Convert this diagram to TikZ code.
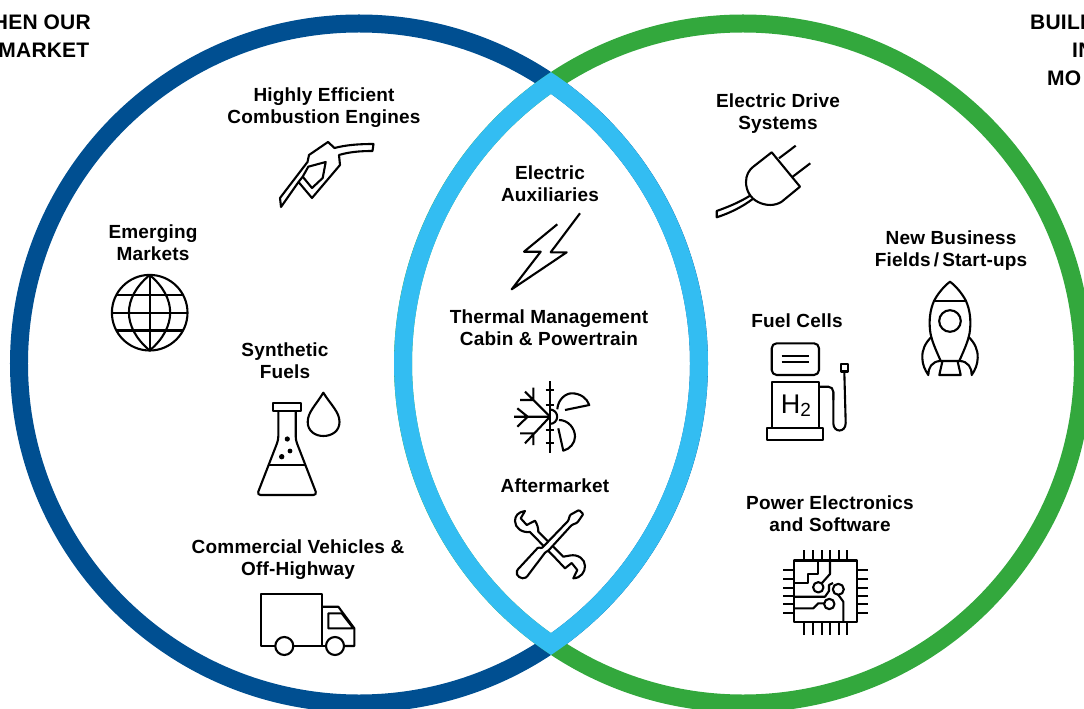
\documentclass[tikz,border=0pt]{standalone}
\usepackage{fontspec}
\newfontfamily\labelfont[LetterSpace=1.0]{Liberation Sans}
\newfontfamily\iconfont{Liberation Sans}
\definecolor{ringblue}{rgb}{0.0,0.31,0.57}
\definecolor{ringgreen}{rgb}{0.2,0.66,0.24}
\definecolor{ringsky}{rgb}{0.2,0.74,0.95}
\tikzset{
  ringline/.style={line width=18bp,draw=#1},
  iconline/.style={line width=2.1bp,draw=black,line join=round},
  itemlabel/.style={font=\labelfont\bfseries\fontsize{19bp}{22bp}\selectfont,align=center,inner sep=0pt},
  headlabel/.style={font=\labelfont\bfseries\fontsize{21bp}{28bp}\selectfont,align=left,inner sep=0pt},
}
\begin{document}
\begin{tikzpicture}[x=1bp,y=-1bp,line join=round]
  \useasboundingbox (0,0) rectangle (1084,709);
  \clip (0,0) rectangle (1084,709);
%%
  % Rings
  \draw [ringline=ringblue] (359,363.5) circle [radius=340bp];
  \draw [ringline=ringgreen] (743,363.5) circle [radius=340bp];
  \fill [ringsky,even odd rule] (551,72.1) arc (56.62:-56.62:349bp) arc (236.62:123.38:349bp) -- cycle
    (551,93.9) arc (54.54:-54.54:331bp) arc (234.54:125.46:331bp) -- cycle;
  % Head lines, cut by the page edge
  \node [headlabel,anchor=east] (headleft1) at (91,22) {HEN OUR};
  \node [headlabel,anchor=east] (headleft2) at (89.5,50) {MARKET};
  \node [headlabel,anchor=west] (headright1) at (1030,22) {BUILD};
  \node [headlabel,anchor=west] (headright2) at (1072,50) {IN};
  \node [headlabel,anchor=west] (headright3) at (1047,78) {MO};
  % Labels
  \node [itemlabel] (engines) at (324,108) {Highly Efficient\\Combustion Engines};
  \node [itemlabel] (markets) at (153,242.5) {Emerging\\Markets};
  \node [itemlabel] (fuels) at (285,361) {Synthetic\\Fuels};
  \node [itemlabel] (vehicles) at (298,560) {Commercial Vehicles \&\\Off-Highway};
  \node [itemlabel] (auxiliaries) at (550,184) {Electric\\Auxiliaries};
  \node [itemlabel] (thermal) at (549,328) {Thermal Management\\Cabin \& Powertrain};
  \node [itemlabel] (aftermarket) at (555,486) {Aftermarket};
  \node [itemlabel] (drive) at (778,114) {Electric Drive\\Systems};
  \node [itemlabel] (business) at (951,251) {New Business\\Fields\,/\,Start-ups};
  \node [itemlabel] (cells) at (797,321) {Fuel Cells};
  \node [itemlabel] (power) at (830,514) {Power Electronics\\and Software};
  % Icon: nozzle
  \draw [iconline] (281,207) -- (280,198) -- (307.5,162) -- (309,155) -- (328,142) -- (334.5,148)
    .. controls (346,145) and (358,144) .. (373.5,144) -- (372.5,151)
    .. controls (360,151) and (349,152) .. (339,155) -- (340,165) -- (312,198) -- (298.5,182) -- cycle;
  \draw [iconline] (325.7,162) -- (322.7,178) -- (312,188) -- (302.7,176.7) -- (308.3,166.7) -- cycle;
  \draw [iconline] (298.5,182) -- (302.7,176.7);
  % Icon: globe
  \draw [iconline] (149.7,312.7) circle [radius=37.8bp];
  \draw [iconline] (149.7,275) -- (149.7,350.5);
  \draw [iconline] (149.7,275) .. controls (122,298) and (122,327) .. (149.7,350.5)
    .. controls (177,327) and (177,298) .. cycle;
  \draw [iconline] (116.5,295) -- (183,295) (112,312.7) -- (187.5,312.7) (116.5,330.5) -- (183,330.5);
  % Icon: flash
  \draw [iconline] (557.3,224.3) -- (524,251.7) -- (540.7,251.7) -- (511.7,289.3) -- (566.7,252.3) -- (550.7,252.3) -- (580,213.3);
  % Icon: frost and fan
  \draw [iconline] (550,381) -- (550,452.7);
  \foreach \ticky in {390,405,430,443.3}
    \draw [iconline] (545.7,\ticky) -- (554.3,\ticky);
  \draw [iconline] (514,416.7) -- (550,416.7) (517.3,408.3) -- (527.7,416.7) -- (517.3,426.7);
  \draw [iconline] (525,391.7) -- (550,416.7) (533.3,387.7) -- (533.3,400) -- (520,400);
  \draw [iconline] (525,443.3) -- (550,416.7) (520,433.3) -- (533.3,433.3) -- (533.3,445);
  \draw [iconline] (550,409.5) arc (90:-90:7.2bp);
  \draw [iconline] (557.3,409.3) .. controls (558,399) and (566,393.3) .. (571.7,393.3)
    .. controls (580,393.3) and (587,398) .. (589.3,405) -- (565,410);
  \draw [iconline] (559,420) .. controls (568,420) and (575,428) .. (575,436.7)
    .. controls (575,443) and (570,449) .. (563.3,450.7) -- (558.3,428.3);
  % Icon: flask
  \draw [iconline] (273.3,402.7) rectangle (301,410.7);
  \draw [iconline,rounded corners=3.5bp] (278.3,410.7) -- (278.3,440) -- (257,495) -- (317,495) -- (295.7,440) -- (295.7,410.7);
  \draw [iconline] (268.3,465) -- (305,465);
  \fill (287.3,439) circle [radius=2.6bp] (290,451) circle [radius=2.4bp] (281.7,456.7) circle [radius=2.7bp];
  \draw [iconline] (323.3,392.7) .. controls (316,405) and (307.7,412) .. (307.7,422)
    .. controls (307.7,431) and (315,436) .. (323.3,436)
    .. controls (332,436) and (339.5,431) .. (339.5,422)
    .. controls (339.5,412) and (331,405) .. cycle;
  % Icon: truck
  \draw [iconline] (275.3,646) -- (261,646) -- (261,594) -- (322,594) -- (322,646);
  \draw [iconline] (293.3,646) -- (326,646);
  \draw [iconline] (322,606.7) -- (338.3,606.7) -- (354.3,628.3) -- (354.3,646) -- (344,646);
  \draw [iconline] (328.3,613.3) -- (341.7,613.3) -- (353.3,628.3) -- (328.3,628.3) -- cycle;
  \draw [iconline] (284.3,646) circle [radius=9bp];
  \draw [iconline] (335,646) circle [radius=9bp];
  % Icon: wrench and screwdriver
  \draw [iconline] (525,511) .. controls (518,512) and (515,516) .. (515,521)
    .. controls (515,528) and (522,533) .. (530,532) -- (555,557.7) -- (565,568.3)
    -- (571.7,563) -- (577.3,570) -- (573.3,578.3)
    .. controls (581,578) and (585,572) .. (585,566)
    .. controls (585,559) and (578,554) .. (570,555.5) -- (563.3,556.7) -- (538.3,531.7)
    .. controls (538.5,528) and (537,524) .. (535,520.7) -- (526.7,525) -- (520.7,518.3) -- cycle;
  \draw [iconline,fill=white,rounded corners=1bp] (541.7,548.3) -- (568.3,520.7) -- (570,515) -- (579,510) -- (583.3,514) -- (577.3,522.7)
    -- (571.7,525) -- (548.3,550.7) -- (545.3,552.3) -- (526.7,577)
    .. controls (522,580) and (515,576) .. (517.3,570) -- (538.3,547.3) -- cycle;
  % Icon: plug
  \draw [iconline] (771.7,152.3) -- (800,186.7) -- (781.7,201.7)
    .. controls (775,206) and (766,206) .. (758,202)
    .. controls (750,198) and (746,190) .. (746,182)
    .. controls (746,175) and (749,170) .. (753.3,166.7) -- cycle;
  \draw [iconline] (779,158.3) -- (795.7,145.7) (792.7,176.7) -- (810.3,163.3);
  \draw [iconline] (750,195.7) .. controls (740,202) and (728,207) .. (716.7,211) -- (716.7,217.3)
    .. controls (730,213) and (742,207) .. (752.7,199);
  % Icon: rocket
  \draw [iconline] (950,281.7) .. controls (943,287) and (937,295) .. (934,301)
    .. controls (930,310) and (929,320) .. (930,330)
    .. controls (931,340) and (936,350) .. (940.7,361) -- (959.3,361)
    .. controls (964,350) and (969,340) .. (970,330)
    .. controls (971,320) and (970,310) .. (966,301)
    .. controls (963,295) and (957,287) .. cycle;
  \draw [iconline] (934.3,301) -- (965.7,301);
  \draw [iconline] (950,321) circle [radius=10.8bp];
  \draw [iconline] (931.7,336.7) .. controls (925,343) and (922,350) .. (922.3,358)
    .. controls (922.5,365) and (925,370) .. (928.3,375)
    .. controls (928,368) and (932,361) .. (940.7,361);
  \draw [iconline] (968.3,336.7) .. controls (975,343) and (978,350) .. (977.7,358)
    .. controls (977.5,365) and (975,370) .. (971.7,375)
    .. controls (972,368) and (968,361) .. (959.3,361);
  \draw [iconline] (942.3,361.7) -- (939.3,375) -- (960.7,375) -- (957.7,361.7);
  % Icon: fuel pump
  \draw [iconline,rounded corners=5bp] (771.7,343.3) rectangle (819,375);
  \draw [iconline] (781.7,355.7) -- (809.3,355.7) (781.7,361.7) -- (809.3,361.7);
  \draw [iconline] (771.7,428.3) -- (771.7,382.3) -- (819.3,382.3) -- (819.3,428.3);
  \draw [iconline] (767.3,428.3) rectangle (823.3,440);
  \draw [iconline,rounded corners=5bp] (819.3,386.7) -- (833.3,386.7) -- (833.3,400);
  \draw [iconline] (833.3,392) -- (833.3,423) .. controls (833.3,433) and (845.7,433) .. (845.7,423) -- (844.3,371.5);
  \draw [iconline] (840.7,364) rectangle (848.3,371.5);
  \node [inner sep=0pt,font=\iconfont\fontsize{27bp}{27bp}\selectfont] (hydrogen) at (796,406) {H\raisebox{-3bp}{\fontsize{19bp}{19bp}\selectfont 2}};
  % Icon: chip
  \draw [iconline] (794,560.5) rectangle (857.3,622.3);
  \foreach \pinx in {804,812.7,821.7,830,839,847.3}
    \draw [iconline] (\pinx,550) -- (\pinx,560.5) (\pinx,622.3) -- (\pinx,635);
  \foreach \piny in {570,579.3,587.7,596,604.3,612.7}
    \draw [iconline] (783.3,\piny) -- (794,\piny) (857.3,\piny) -- (868.3,\piny);
  \draw [iconline] (818.3,560.5) -- (818.3,574) -- (808.3,574) -- (808.3,583.3) -- (794,583.3);
  \draw [iconline] (830,560.5) -- (830,574) -- (821.7,583.3);
  \draw [iconline] (818.3,587.3) circle [radius=5.2bp];
  \draw [iconline] (794,596.7) -- (825,596.7) -- (829,591) -- (829,585) -- (833,583);
  \draw [iconline] (838.3,589.3) circle [radius=5.5bp];
  \draw [iconline] (794,608.3) -- (813.3,608.3) -- (818.3,603.3) -- (824.1,603.3);
  \draw [iconline] (829.3,604) circle [radius=5.2bp];
  \draw [iconline] (838.3,594.8) -- (843.3,601.7) -- (843.3,622.3);
%
\end{tikzpicture}
\end{document}
